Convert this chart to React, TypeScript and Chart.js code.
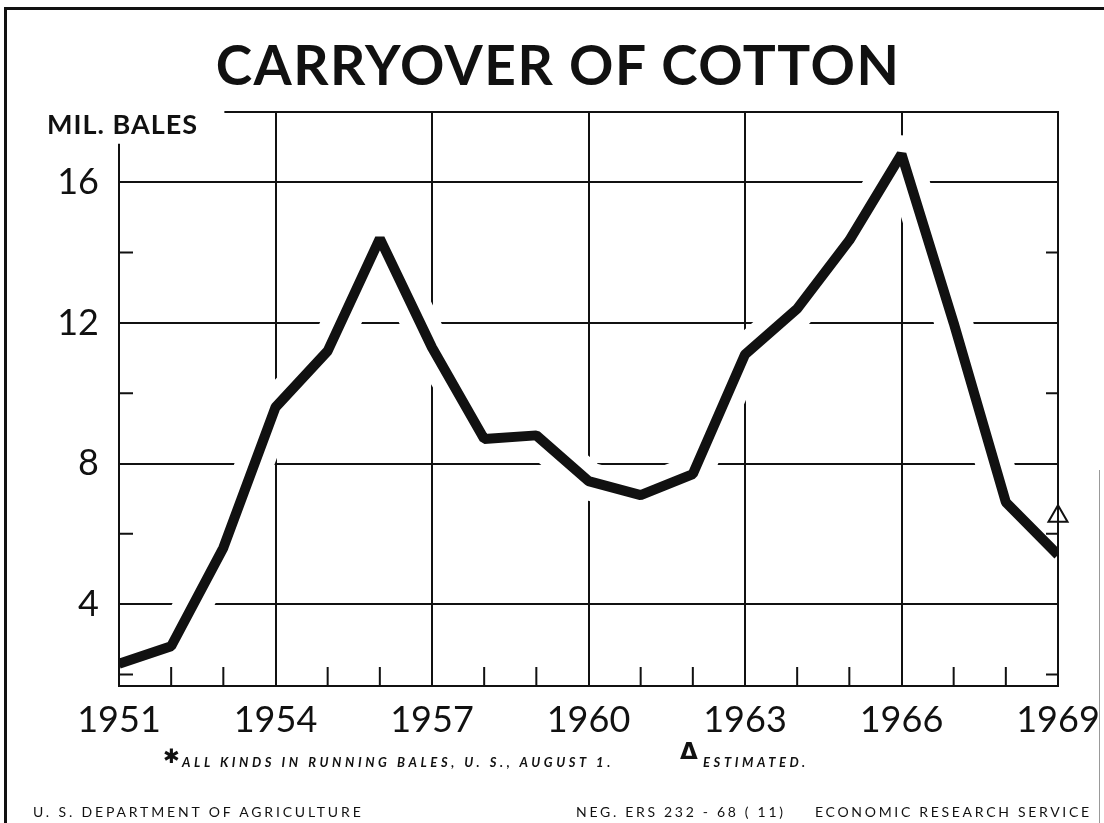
import React, { useEffect, useRef } from "react";
import { Chart, registerables } from "chart.js";

Chart.register(...registerables);

// ---- Data ----
const years = [1951, 1952, 1953, 1954, 1955, 1956, 1957, 1958, 1959, 1960, 1961, 1962, 1963, 1964, 1965, 1966, 1967, 1968, 1969];
const carryover = [2.3, 2.8, 5.6, 9.6, 11.2, 14.4, 11.3, 8.7, 8.8, 7.5, 7.1, 7.7, 11.1, 12.4, 14.35, 16.8, 12.0, 6.9, 5.4];
const estimatedYears = [1969];
const estimatedValues = [6.5];
const xLabelYears = [1951, 1954, 1957, 1960, 1963, 1966, 1969];
const yMajorTicks = [4, 8, 12, 16];
const yMinorTicks = [2, 6, 10, 14];

const INK = "#111111";

const framePlugin = {
  id: "frame",
  afterDatasetsDraw(chart: any) {
    const { ctx, chartArea: a, scales } = chart;
    const x = scales.x;
    const y = scales.y;
    ctx.save();
    ctx.strokeStyle = INK;
    ctx.lineWidth = 2;
    ctx.lineCap = "butt";
    ctx.beginPath();
    ctx.moveTo(a.left, y.getPixelForValue(17.1));
    ctx.lineTo(a.left, a.bottom);
    ctx.lineTo(a.right, a.bottom);
    ctx.lineTo(a.right, a.top);
    ctx.lineTo(x.getPixelForValue(1953.02), a.top);
    ctx.stroke();
    ctx.beginPath();
    years.forEach((yr) => {
      if (!xLabelYears.includes(yr)) {
        const px = x.getPixelForValue(yr);
        ctx.moveTo(px, a.bottom);
        ctx.lineTo(px, a.bottom - 19);
      }
    });
    yMinorTicks.forEach((v) => {
      const py = y.getPixelForValue(v);
      ctx.moveTo(a.left, py);
      ctx.lineTo(a.left + 14, py);
      ctx.moveTo(a.right, py);
      ctx.lineTo(a.right - 12, py);
    });
    ctx.stroke();
    ctx.restore();
  },
};

export default function App() {
  const ref = useRef<HTMLCanvasElement | null>(null);

  useEffect(() => {
    if (!ref.current) return;
    const points = years.map((yr, i) => ({ x: yr, y: carryover[i] }));
    const chart = new Chart(ref.current, {
      type: "line",
      data: {
        datasets: [
          {
            label: "gap",
            data: points,
            borderColor: "#ffffff",
            borderWidth: 38,
            borderJoinStyle: "round",
            pointRadius: 0,
            tension: 0,
            fill: false,
            order: 3,
          },
          {
            label: "Carryover",
            data: points,
            borderColor: INK,
            borderWidth: 10,
            borderJoinStyle: "bevel",
            pointRadius: 0,
            tension: 0,
            fill: false,
            order: 2,
          },
          {
            label: "Estimated",
            data: estimatedYears.map((yr, i) => ({ x: yr, y: estimatedValues[i] })),
            showLine: false,
            pointStyle: "triangle",
            pointRadius: 11,
            pointBorderWidth: 2,
            pointBorderColor: INK,
            pointBackgroundColor: "rgba(0,0,0,0)",
            clip: false as any,
            order: 1,
          },
        ],
      },
      options: {
        animation: false,
        responsive: false,
        events: [],
        layout: { padding: { top: 112, right: 46, left: 0, bottom: 0 } },
        plugins: {
          legend: { display: false },
          tooltip: { enabled: false },
          title: { display: false },
        },
        scales: {
          x: {
            type: "linear",
            min: 1951,
            max: 1969,
            border: { display: false },
            afterBuildTicks: (s: any) => {
              s.ticks = years.map((v) => ({ value: v }));
            },
            afterFit: (s: any) => {
              s.height = 137;
              s.paddingLeft = 0;
              s.paddingRight = 0;
            },
            grid: {
              drawTicks: false,
              lineWidth: 2,
              color: (c: any) => {
                const v = c.tick && c.tick.value;
                return xLabelYears.includes(v) && v !== 1951 && v !== 1969 ? INK : "rgba(0,0,0,0)";
              },
            },
            ticks: {
              autoSkip: false,
              maxRotation: 0,
              padding: 13,
              color: INK,
              font: { family: "Lato", size: 36 },
              callback: (v: any) => (xLabelYears.includes(v) ? String(v) : ""),
            },
          },
          y: {
            type: "linear",
            min: 1.67,
            max: 18,
            border: { display: false },
            afterBuildTicks: (s: any) => {
              s.ticks = [...yMinorTicks, ...yMajorTicks].sort((a, b) => a - b).map((v) => ({ value: v }));
            },
            afterFit: (s: any) => {
              s.width = 119;
              s.paddingTop = 0;
              s.paddingBottom = 0;
            },
            grid: {
              drawTicks: false,
              lineWidth: 2,
              color: (c: any) => (c.tick && yMajorTicks.includes(c.tick.value) ? INK : "rgba(0,0,0,0)"),
            },
            ticks: {
              padding: 20,
              color: INK,
              font: { family: "Lato", size: 36 },
              callback: (v: any) => (yMajorTicks.includes(v) ? String(v) : ""),
            },
          },
        },
      },
      plugins: [framePlugin],
    });
    return () => chart.destroy();
  }, []);

  const abs = (o: React.CSSProperties): React.CSSProperties => ({
    position: "absolute",
    whiteSpace: "nowrap",
    color: INK,
    ...o,
  });

  return (
    <div style={{ position: "absolute", left: 0, top: 0, width: 1104, height: 823, background: "#fff", overflow: "hidden" }}>
      <canvas ref={ref} width={1104} height={823} style={{ position: "absolute", left: 0, top: 0 }} />
      {/* frame */}
      <div style={{ position: "absolute", left: 4, top: 7, width: 1100, height: 3, background: INK }} />
      <div style={{ position: "absolute", left: 4, top: 7, width: 3, height: 816, background: INK }} />
      <div style={{ position: "absolute", left: 1099, top: 470, width: 1, height: 353, background: "#999" }} />

      <div style={abs({ left: 6, top: 37, width: 1104, textAlign: "center", font: "700 55px Lato", lineHeight: "55px", letterSpacing: 1.5 })}>
        CARRYOVER OF COTTON
      </div>
      <div style={abs({ left: 47, top: 110, font: "700 27px Lato", lineHeight: "27px", letterSpacing: 1 })}>MIL. BALES</div>

      <div style={abs({ left: 163, top: 746, font: "700 20px 'DejaVu Sans'", lineHeight: "20px" })}>✱</div>
      <div style={abs({ left: 182, top: 756, font: "italic 700 13px Lato", lineHeight: "13px", letterSpacing: 3.6 })}>
        ALL KINDS IN RUNNING BALES, U. S., AUGUST 1.
      </div>
      <div style={abs({ left: 680, top: 740, font: "700 23px 'DejaVu Sans'", lineHeight: "23px" })}>Δ</div>
      <div style={abs({ left: 703, top: 756, font: "italic 700 13px Lato", lineHeight: "13px", letterSpacing: 3.6 })}>
        ESTIMATED.
      </div>

      <div style={abs({ left: 33, top: 805, font: "400 14px Lato", lineHeight: "14px", letterSpacing: 2.85 })}>
        U. S. DEPARTMENT OF AGRICULTURE
      </div>
      <div style={abs({ left: 576, top: 805, font: "400 14px Lato", lineHeight: "14px", letterSpacing: 2.7 })}>
        NEG. ERS 232 - 68 ( 11)
      </div>
      <div style={abs({ left: 815, top: 805, font: "400 14px Lato", lineHeight: "14px", letterSpacing: 2.7 })}>
        ECONOMIC RESEARCH SERVICE
      </div>
    </div>
  );
}
